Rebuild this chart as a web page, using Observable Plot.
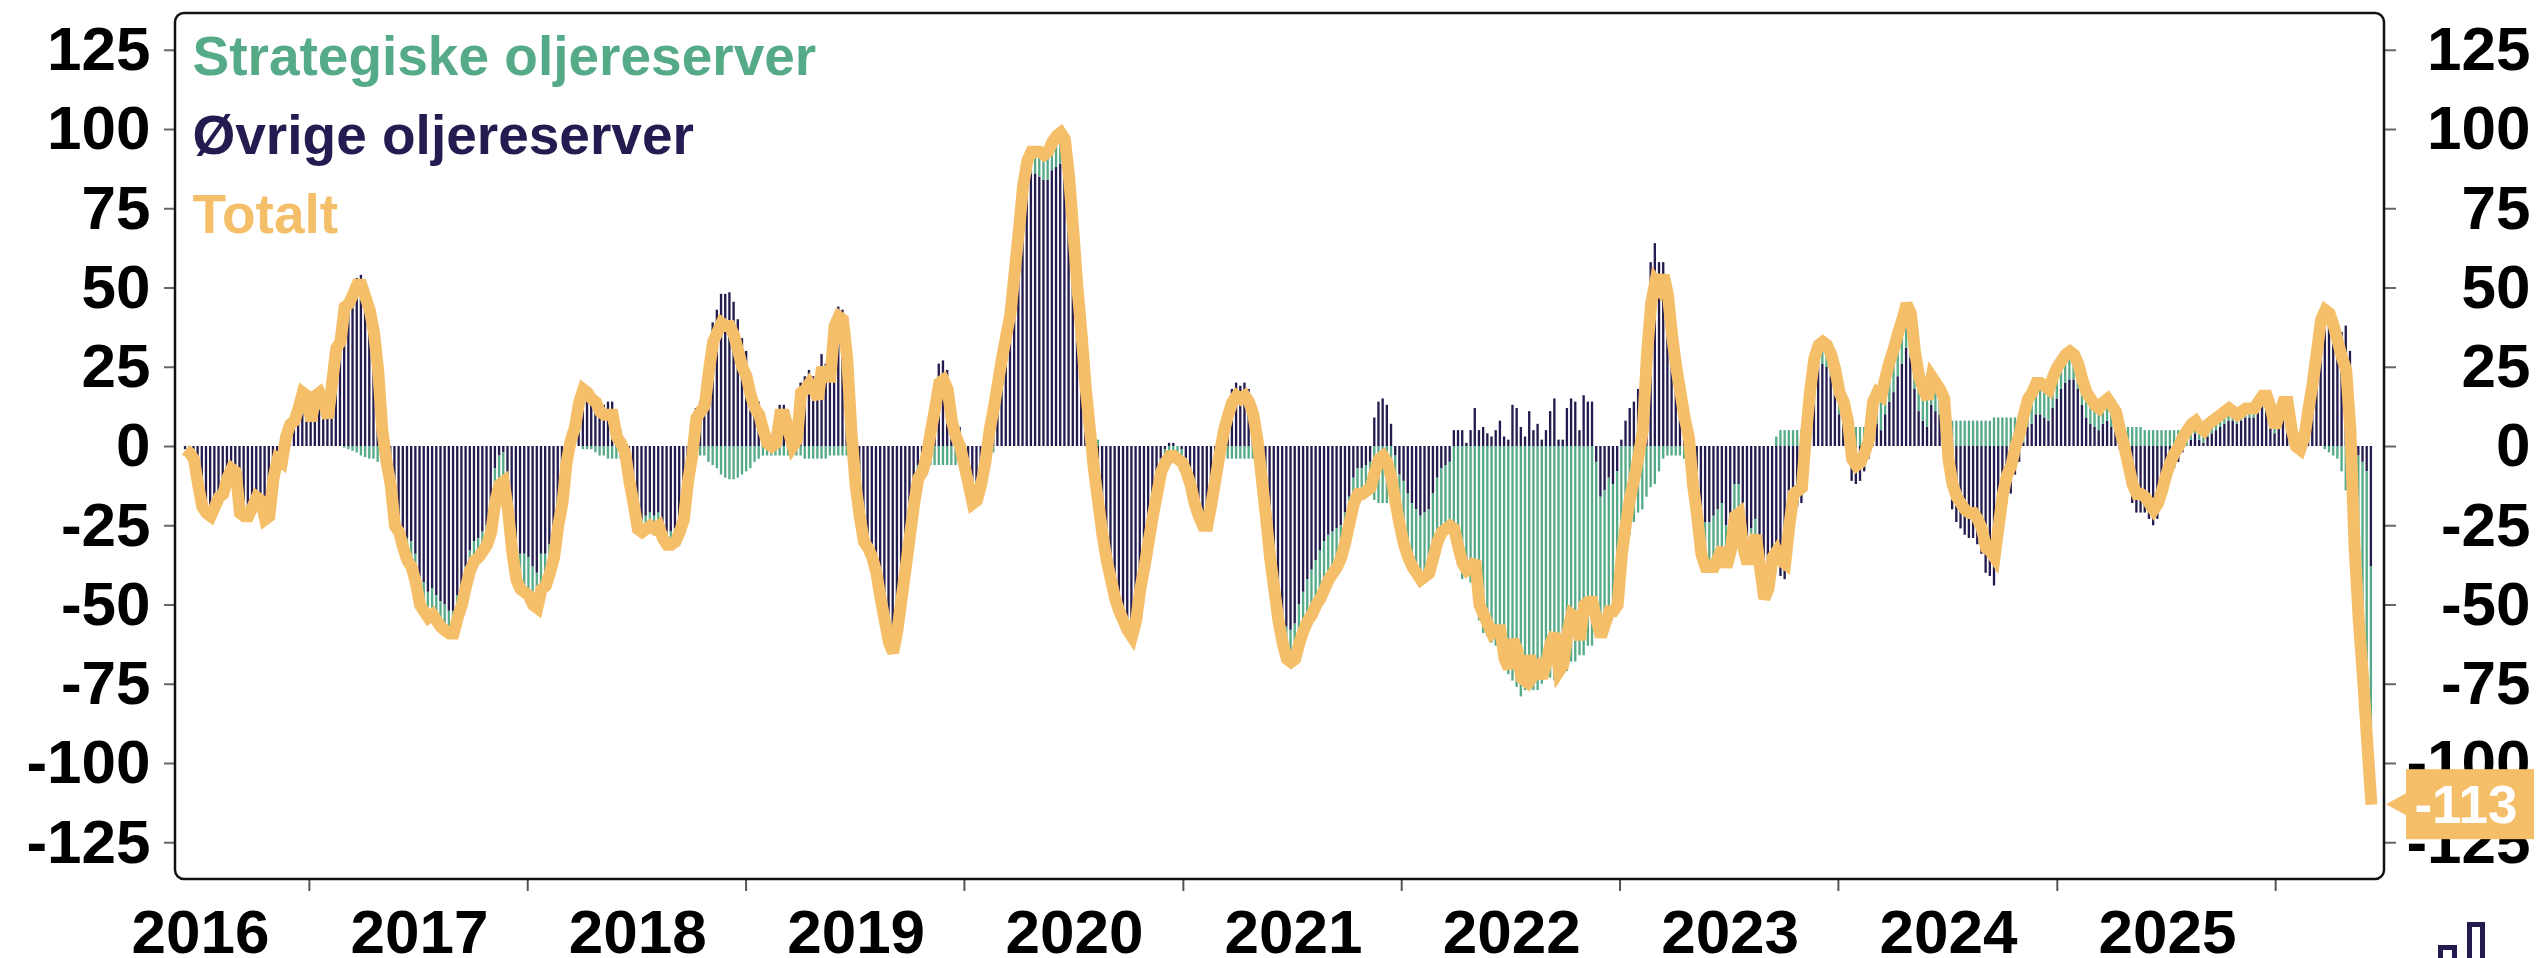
<!DOCTYPE html>
<html><head><meta charset="utf-8">
<script src="https://cdn.jsdelivr.net/npm/d3@7"></script>
<script src="https://cdn.jsdelivr.net/npm/@observablehq/plot@0.6"></script>
<style>
html,body{margin:0;padding:0;background:#fff;overflow:hidden;}
#chart svg{display:block;}
</style></head><body><div id="chart"></div>
<script>
// ---- data (weekly, million barrels) ----
const startDate = "2015-12-07"; // first weekly observation
const seriesNames = ["Øvrige oljereserver", "Strategiske oljereserver"];
const legendLabels = ["Strategiske oljereserver", "Øvrige oljereserver", "Totalt"];
const yTicks = [-125, -100, -75, -50, -25, 0, 25, 50, 75, 100, 125];
const yearLabels = [2016, 2017, 2018, 2019, 2020, 2021, 2022, 2023, 2024, 2025];

const ovrige = [
-1,-2,-4,-12,-19,-21,-22,-19,-16,-15,
-10,-7,-8,-21,-22,-22,-19,-16,-17,-23,
-22,-10,-4,-5,3,7,8,12,17,16,
8,16,17,14,9,20,31,33,
44.5,46,49.5,53,54,50.5,47,40,29,10,-1,-8,
-21,-22,-26,-29,-30,-34,-41,-43,-46,-45,-47,-49,-50,-52,-52,-47,
-44,-38,-33,-30,-29,-27,-25,
-19,-7,-3,-2,-10,
-23,-31,-34,-34,-35,-38,-40,-34,-34,-31,-27,
-20,-15,-4,
0,4,12,
19,18,16,16,
14,13,14,14,7,5,
2,-7,-14,-22,-23,-22,-21,-22,-21,-25,-27,-27,-26,-23,-19,-7,
0,12,14,16,
29,39,43,48,48,48.5,45.5,40,34,30,23,17,14,8,
4,3,4,13,13,8,3,
5,20,22,24,22,19,29,26,25,41,44,43,31,
9,-8,-18,-26,-28,-31,-36,-44,-51,-58,-61,-54,-44,-34,-24,-14,-6,
-2,3,11,18,26,27,24,14,9,6,0,-6,-12,-11,-6,1,11,
14,20,27,33,39,52,64,77,84,86,86,85,84,84,87,88,89,87,76,60,43,29,13,1,-11,-20,-28,-34,
-38,-44,-48,-51,-54,-56,-51,-41,-34,-26,-18,-11,-4,-1,1,1,0,-1,-4,-8,-14,-18,-21,-21,-14,-6,2,9,14,18,20,19,20,18,14,6,
-5,-16,-29,-38,-47,-53,-57,-58,-56,-50,-46,-42,-39,-36,-33,-30,-28,-27,-26,-25,-21,
-16,-10,-7,-7,-6,-5,
9,14,15,13,7,
-3,-9,
-11,-15,-18,-20,-22,-21,-20,-15,-10,-7,-6,-5,
5,5,5,
1,5,12,5,6,4,3,5,8,3,2,13,12,6,3,11,5,7,2,5,11,15,2,2,12,15,14,5,16,14,14,
-5,-16,-14,-10,-12,-8,
2,8,12,14,18,25,45,58,64,58,58,51,38,28,20,13,7,
-6,-14,-22,-24,-24,-22,-20,-18,-25,-22,-12,-12,-24,-30,-26,-23,-34,-45,-43,-34,
-36,-41,-42,-30,-20,-19,-18,-2,12,22,25,26,25,22,17,10,7,1,-11,-12,-11,-8,-4,
6,7,5,10,14,17,22,26,31,28,18,11,8,6,13,11,10,7,
-12,-20,-24,-26,-28,-29,-29,-31,-34,-40,-41,-44,-34,-24,-18,-15,-9,-5,1,6,7,10,10,9,8,
12,15,18,20,21,21,18,13,9,7,
6,5,7,8,6,5,-1,-6,-12,-18,-21,-21,-21,-23,-25,-23,-19,-14,-10,-7,
-5,-2,0,2,4,2,1,3,4,5,6,7,8,8,7,8,9,
9,9,11,13,13,
10,4,8,13,13,4,-1,-2,3,12,20,30,40,
44,44,41,37,36,38,30,8,-3,-5,-8,-38
];

const strategiske = [
0,0,0,0,0,0,0,0,0,0,
0,0,0,0,0,0,0,0,0,0,
0,0,0,0,0,0,0,0,0,0,
0,0,0,0,0,0,0,0,
-0.5,-1,-1.5,-2,-3,-3.5,-4,-4,-5,-5,-4,-4,
-4,-5,-6,-7,-8,-9,-9,-9,-8,-8,-8,-8,-8,-7,-7,-7,
-6,-6,-6,-6,-6,-6,-6,
-8,-10,-9,-9,-10,
-10,-11,-11,-12,-12,-12,-11,-11,-10,-9,-8,
-5,-3,-1,
2,2,2,
-1,-1,-1,-2,
-3,-3,-4,-4,-4,-4,
-4,-4,-4,-4,-4,-4,-4,-4,-4,-4,-4,-4,-4,-4,-4,-4,
-3,-3,-3,-3,
-5,-6,-7,-9,-10,-10.5,-10.5,-10,-9,-8,-7,-5,-4,-3,
-3,-3,-3,-3,-3,-3,-3,
-3,-3,-4,-4,-4,-4,-4,-4,-3,-3,-3,-3,-3,
-4,-4,-4,-4,-4,-4,-4,-4,-4,-4,-4,-4,-4,-4,-4,-4,-4,
-6,-6,-6,-6,-6,-6,-6,-6,-6,-6,-6,-6,-6,-6,-6,-6,-6,
-2,0,1,2,3,3,4,5,6,7,7,8,8,9,9,10,10,10,9,8,7,6,5,4,3,2,0,-2,
-4,-4,-4,-4,-4,-4,-4,-4,-4,-4,-4,-4,-4,-4,-4,-4,-4,-4,-4,-4,-4,-4,-4,-4,-4,-4,-4,-4,-4,-4,-4,-4,-4,-4,-4,-4,
-5,-6,-6,-7,-8,-9,-10,-10,-11,-12,-12,-13,-14,-14,-15,-15,-14,-13,-12,-10,-9,
-8,-8,-8,-8,-8,-8,
-17,-18,-18,-18,-17,
-15,-16,
-20,-20,-20,-20,-20,-20,-20,-20,-20,-20,-20,-20,
-31,-37,-42,
-40,-43,-48,-55,-59,-60,-62,-63,-66,-70,-72,-74,-76,-79,-77,-77,-77,-77,-75,-73,-73,-74,-73,-71,-71,-68,-68,-66,-66,-63,-63,
-50,-44,-42,-42,-40,-42,
-36,-32,-28,-24,-21,-20,-16,-13,-12,-8,-4,-3,-3,-3,-3,-4,-4,
-6,-8,-12,-14,-14,-16,-15,-14,-13,-11,-10,-9,-8,-7,-6,-5,-4,-3,-2,-1,
3,5,5,5,5,5,5,6,6,6,7,7,7,7,7,7,7,7,7,6,6,6,6,
8,10,11,12,13,14,14,14,14,14,12,11,10,9,9,9,8,8,
8,8,8,8,8,8,8,8,8,8,8,9,9,9,9,9,9,9,9,9,10,10,10,10,10,
10,10,9,9,9,8,8,8,8,8,
7,7,7,7,7,6,6,6,6,6,6,6,5,5,5,5,5,5,5,5,
5,5,5,5,4,4,4,4,4,4,4,4,4,3,3,3,3,
3,3,3,3,3,
2,2,2,1,1,1,1,1,0,0,0,0,0,
-1,-2,-3,-4,-8,-14,-25,-40,-52,-68,-85,-75
];

// ---- styling ----
const NAVY = "#241c50", GREEN = "#55aa88", ORANGE = "#f5bf6a";
const FONT = "'Liberation Sans', Arial, Helvetica, sans-serif";

const n = Math.min(ovrige.length, strategiske.length);
const t0 = new Date(startDate + "T00:00Z");
const bars = [], totals = [];
for (let i = 0; i < n; i++) {
  const date = d3.utcDay.offset(t0, 7 * i);
  bars.push({date, series: seriesNames[0], value: ovrige[i]});
  bars.push({date, series: seriesNames[1], value: strategiske[i]});
  totals.push({date, value: ovrige[i] + strategiske[i]}); // Totalt = sum of both
}
const half = 1.95 * 86400000;
const janDates = yearLabels.map(y => new Date(Date.UTC(y, 0, 1)));
const midDates = yearLabels.map(y => new Date(Date.UTC(y, 6, 1)));
const legendColors = [GREEN, NAVY, ORANGE];
const fmt = d => String(d); // plain hyphen-minus like the reference

const plot = Plot.plot({
  width: 2542, height: 958,
  marginLeft: 175, marginRight: 158, marginTop: 13, marginBottom: 79,
  style: {fontFamily: FONT, background: "white", color: "black", overflow: "visible"},
  x: {type: "utc", domain: [new Date("2015-11-20T05:00Z"), new Date("2025-12-29T22:00Z")], axis: null},
  y: {domain: [-136.6, 136.6], axis: null},
  color: {domain: seriesNames, range: [NAVY, GREEN]},
  marks: [
    Plot.rectY(bars, {x1: d => new Date(+d.date - half), x2: d => new Date(+d.date + half), y: "value", fill: "series"}),
    Plot.line(totals, {x: "date", y: "value", stroke: ORANGE, strokeWidth: 12, strokeLinejoin: "miter", strokeMiterlimit: 3, strokeLinecap: "butt"}),
    // left axis
    Plot.axisY(yTicks, {anchor: "left", label: null, tickSize: 11, tickFormat: () => "", stroke: "#666", strokeWidth: 2}),
    Plot.axisY(yTicks, {anchor: "left", label: null, tickSize: 0, tickPadding: 25, tickFormat: fmt, fontSize: 62, fontWeight: "bold", fill: "black"}),
    // right axis
    Plot.axisY(yTicks, {anchor: "right", label: null, tickSize: 11, tickFormat: () => "", stroke: "#666", strokeWidth: 2}),
    Plot.axisY(yTicks, {anchor: "right", label: null, tickSize: 0, tickPadding: 146, textAnchor: "end", tickFormat: fmt, fontSize: 62, fontWeight: "bold", fill: "black"}),
    // bottom axis: ticks at mid-year, labels at year start
    Plot.axisX(midDates, {anchor: "bottom", label: null, tickSize: 12, tickFormat: () => "", stroke: "#555", strokeWidth: 2}),
    Plot.axisX(janDates, {anchor: "bottom", label: null, tickSize: 0, tickPadding: 29, tickFormat: d => String(d.getUTCFullYear()), fontSize: 62, fontWeight: "bold", fill: "black"}),
    // legend
    ...legendLabels.map((t, k) => Plot.text([t], {frameAnchor: "top-left", text: d => d, dx: 17, dy: 61 + 79 * k,
      lineAnchor: "bottom", textAnchor: "start", fill: legendColors[k], fontSize: 55, fontWeight: "bold"}))
  ]
});

const svg = d3.select(plot);
// rounded frame
svg.append("rect").attr("x", 175).attr("y", 13).attr("width", 2384 - 175).attr("height", 879 - 13)
  .attr("rx", 9).attr("fill", "none").attr("stroke", "#111").attr("stroke-width", 2.5);

// last-value annotation
const last = totals[totals.length - 1];
const ys = plot.scale("y").apply(last.value);
const g = svg.append("g");
g.append("path").attr("d", `M2386,${ys} L2408,${ys - 12} L2408,${ys + 12} Z`).attr("fill", ORANGE);
g.append("rect").attr("x", 2406).attr("y", ys - 35).attr("width", 128).attr("height", 70).attr("fill", ORANGE);
g.append("text").attr("x", 2466).attr("y", ys + 19).attr("text-anchor", "middle")
  .attr("font-family", FONT).attr("font-weight", "bold").attr("font-size", 53).attr("fill", "white")
  .text(String(Math.round(last.value)));

// small logo fragment at bottom right
const logo = svg.append("g").attr("fill", "none").attr("stroke", NAVY).attr("stroke-width", 5);
logo.append("rect").attr("x", 2440.5).attr("y", 947.5).attr("width", 14).attr("height", 30);
logo.append("rect").attr("x", 2469.5).attr("y", 924.5).attr("width", 13).attr("height", 50);

document.getElementById("chart").appendChild(plot);
</script></body></html>
